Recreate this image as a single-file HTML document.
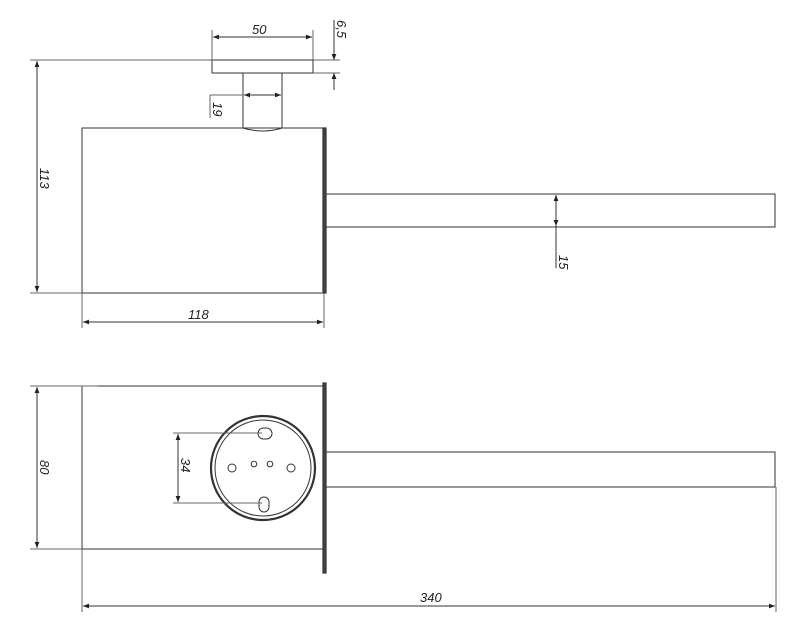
<!DOCTYPE html>
<html><head><meta charset="utf-8"><style>
html,body{margin:0;padding:0;background:#fff;width:805px;height:633px;overflow:hidden}
text{font-family:"Liberation Sans",sans-serif;font-size:13px;font-style:italic;fill:#222}
</style></head><body>
<svg width="805" height="633" viewBox="0 0 805 633" xmlns="http://www.w3.org/2000/svg">
<defs>
<marker id="a" viewBox="0 0 10 10" refX="10" refY="5" markerWidth="8" markerHeight="6" orient="auto-start-reverse" markerUnits="userSpaceOnUse"><path d="M0,1 L10,5 L0,9 z" fill="#222"/></marker>
</defs>
<g stroke="#333" stroke-width="1" fill="none">
<!-- TOP VIEW -->
<rect x="82" y="128" width="241" height="165"/>
<rect x="323" y="128" width="3" height="165" fill="#444" stroke-width="1.2"/>
<rect x="326" y="194" width="449" height="33"/>
<rect x="212" y="60" width="101" height="13"/>
<path d="M243,73 V128 Q263,134 282,128 V73"/>
<!-- 50 -->
<line x1="212" y1="30" x2="212" y2="60" stroke="#666"/>
<line x1="313" y1="30" x2="313" y2="60" stroke="#666"/>
<line x1="213" y1="37" x2="312" y2="37" marker-start="url(#a)" marker-end="url(#a)"/>
<!-- 6.5 -->
<line x1="313" y1="60" x2="340" y2="60" stroke="#666"/>
<line x1="313" y1="73" x2="340" y2="73" stroke="#666"/>
<line x1="334" y1="20" x2="334" y2="60" marker-end="url(#a)"/>
<line x1="334" y1="90" x2="334" y2="73" marker-end="url(#a)"/>
<!-- 19 -->
<line x1="210" y1="95" x2="243" y2="95" stroke="#666"/>
<line x1="210" y1="95" x2="210" y2="118" stroke="#666"/>
<line x1="244" y1="95" x2="281" y2="95" marker-start="url(#a)" marker-end="url(#a)"/>
<!-- 113 -->
<line x1="30" y1="60" x2="212" y2="60" stroke="#666"/>
<line x1="30" y1="293" x2="82" y2="293" stroke="#666"/>
<line x1="37" y1="61" x2="37" y2="292" marker-start="url(#a)" marker-end="url(#a)"/>
<!-- 118 -->
<line x1="82" y1="293" x2="82" y2="328" stroke="#666"/>
<line x1="324" y1="293" x2="324" y2="328" stroke="#666"/>
<line x1="83" y1="322" x2="323" y2="322" marker-start="url(#a)" marker-end="url(#a)"/>
<!-- 15 -->
<line x1="556" y1="195" x2="556" y2="226" marker-start="url(#a)" marker-end="url(#a)"/>
<line x1="556" y1="226" x2="556" y2="268"/>

<!-- BOTTOM VIEW -->
<rect x="82" y="386" width="241" height="163"/>
<rect x="323" y="383" width="3" height="190" fill="#444" stroke-width="1.2"/>
<rect x="326" y="452" width="449" height="35"/>
<circle cx="263" cy="468" r="52" stroke-width="2.2"/>
<circle cx="263" cy="468" r="48"/>
<rect x="258" y="428" width="14" height="11" rx="5.5"/>
<rect x="259" y="497" width="10" height="15" rx="5"/>
<circle cx="232" cy="468" r="4"/>
<circle cx="254" cy="464" r="2.8"/>
<circle cx="270" cy="464" r="2.8"/>
<circle cx="291" cy="468" r="4"/>
<!-- 34 -->
<line x1="173" y1="433" x2="262" y2="433" stroke="#666"/>
<line x1="173" y1="503" x2="262" y2="503" stroke="#666"/>
<line x1="178" y1="434" x2="178" y2="502" marker-start="url(#a)" marker-end="url(#a)"/>
<!-- 80 -->
<line x1="30" y1="386" x2="98" y2="386" stroke="#666"/>
<line x1="30" y1="549" x2="82" y2="549" stroke="#666"/>
<line x1="37" y1="387" x2="37" y2="548" marker-start="url(#a)" marker-end="url(#a)"/>
<!-- 340 -->
<line x1="82" y1="549" x2="82" y2="612" stroke="#666"/>
<line x1="776" y1="487" x2="776" y2="612" stroke="#666"/>
<line x1="83" y1="606" x2="775" y2="606" marker-start="url(#a)" marker-end="url(#a)"/>
</g>
<text x="252" y="34">50</text>
<text transform="translate(337,20) rotate(90)">6,5</text>
<text transform="translate(213,102) rotate(90)">19</text>
<text transform="translate(40,168) rotate(90)">113</text>
<text x="188" y="319">118</text>
<text transform="translate(559,255) rotate(90)">15</text>
<text transform="translate(181,458) rotate(90)">34</text>
<text transform="translate(40,460) rotate(90)">80</text>
<text x="420" y="602">340</text>
</svg>
</body></html>
